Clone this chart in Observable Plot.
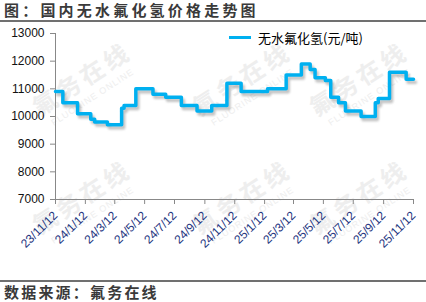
<!DOCTYPE html>
<html>
<head>
<meta charset="utf-8">
<script src="https://cdn.jsdelivr.net/npm/d3@7"></script>
<script src="https://cdn.jsdelivr.net/npm/@observablehq/plot@0.6"></script>
<style>
  html, body { margin: 0; padding: 0; background: #fff; }
  #wrap { position: relative; width: 426px; height: 302px; overflow: hidden; font-family: "Liberation Sans", Arial, sans-serif; }
  #title { position: absolute; left: 0; top: 0; width: 426px; height: 20px; border-bottom: 2px solid #707070;
           font-family: "Noto Sans CJK SC", sans-serif; font-weight: bold; font-size: 15px; line-height: 20px;
           letter-spacing: 3.2px; color: #3a3a3a; padding-left: 4px; box-sizing: content-box; }
  #footer { position: absolute; left: 0; top: 280px; width: 426px; height: 22px; border-top: 2px solid #707070;
           font-family: "Noto Sans CJK SC", sans-serif; font-weight: bold; font-size: 15px; line-height: 20px;
           letter-spacing: 2.2px; color: #3a3a3a; padding-left: 4px; }
  #chart { position: absolute; left: 0; top: 22px; }
  #legend { position: absolute; left: 229px; top: 28px; height: 18px; display: flex; align-items: center;
            font-family: "Noto Sans CJK SC", sans-serif; font-size: 13px; color: #000; }
  #legend .sw { width: 22px; height: 3px; background: #00b0f0; margin-right: 7px; }
  .wm { position: absolute; transform: rotate(-33deg); transform-origin: center; color: #eeeeee; text-align: center;
        font-family: "Noto Sans CJK SC", sans-serif; white-space: nowrap; }
  .wm b { display: block; font-size: 24px; letter-spacing: 4px; }
  .wm i { display: block; font-style: normal; font-size: 9px; letter-spacing: 1px; font-family: "Liberation Sans", sans-serif; }
</style>
</head>
<body>
<div id="wrap">
  <div id="wms"></div>
  <div id="title">图：国内无水氟化氢价格走势图</div>
  <div id="chart"></div>
  <div id="legend"><span class="sw"></span><span>无水氟化氢(元/吨)</span></div>
  <div id="footer">数据来源：氟务在线</div>
</div>
<script>
// ---- data ----
const dates = ["2023-11-12","2023-11-27","2023-12-27","2024-01-23","2024-01-31","2024-02-26","2024-03-26","2024-03-31",
  "2024-04-24","2024-05-29","2024-06-24","2024-07-26","2024-08-27","2024-09-26","2024-10-27","2024-11-25",
  "2025-01-18","2025-02-25","2025-03-28","2025-04-15","2025-04-25","2025-05-16","2025-05-27","2025-06-12",
  "2025-06-26","2025-07-28","2025-08-26","2025-09-01","2025-09-24","2025-10-28","2025-11-12"];
const prices = [10900,10500,10100,9900,9800,9700,10300,10400,
  11000,10800,10700,10400,10200,10400,11200,10900,
  11000,11500,11900,11700,11400,11300,10700,10500,
  10200,10000,10500,10650,11600,11350,11350];
const xTickDates = ["2023-11-12","2024-01-12","2024-03-12","2024-05-12","2024-07-12","2024-09-12","2024-11-12",
  "2025-01-12","2025-03-12","2025-05-12","2025-07-12","2025-09-12","2025-11-12"];
const yTicks = [7000,8000,9000,10000,11000,12000,13000];
const seriesName = "无水氟化氢(元/吨)";

const data = dates.map((d, i) => ({date: new Date(d + "T00:00:00Z"), price: prices[i]}));
const xTicks = xTickDates.map(d => new Date(d + "T00:00:00Z"));
const fmt = d => `${String(d.getUTCFullYear()).slice(2)}/${d.getUTCMonth() + 1}/${d.getUTCDate()}`;

const chart = Plot.plot({
  width: 426,
  height: 258,
  marginLeft: 55,
  marginRight: 13,
  marginTop: 11,
  marginBottom: 81,
  style: {fontFamily: "'Liberation Sans', Arial, sans-serif", fontSize: "12px", color: "#888", background: "transparent", overflow: "visible"},
  x: {type: "utc", domain: [xTicks[0], xTicks[xTicks.length - 1]], ticks: xTicks, tickFormat: fmt,
      tickRotate: -45, tickSize: 5, tickPadding: 9, label: null},
  y: {domain: [yTicks[0], yTicks[yTicks.length - 1]], ticks: yTicks, tickFormat: d => String(d),
      tickSize: 5, tickPadding: 6, label: null},
  marks: [
    Plot.ruleX([xTicks[0]], {stroke: "#888", strokeWidth: 1}),
    Plot.ruleY([yTicks[0]], {stroke: "#888", strokeWidth: 1}),
    Plot.line(data, {x: "date", y: "price", curve: "step-after", stroke: "#7a7a7a", strokeOpacity: 0.45,
      strokeWidth: 3.5, dx: 2, dy: 3}),
    Plot.line(data, {x: "date", y: "price", curve: "step-after", stroke: "#00b0f0", strokeWidth: 3.5})
  ]
});
document.getElementById("chart").appendChild(chart);

// styling after render
const svg = d3.select(chart);
svg.selectAll('g[aria-label="y-axis tick label"] text').attr("fill", "#111");
svg.selectAll('g[aria-label="x-axis tick label"] text').attr("fill", "#1e3580");
const lineGroups = chart.querySelectorAll('g[aria-label="line"]');
if (lineGroups.length > 1) lineGroups[0].style.filter = "blur(1.3px)";

// faint watermarks
const wmCenters = [[83, 82], [243, 82], [360, 82], [83, 200], [243, 200], [360, 200]];
const wms = document.getElementById("wms");
wmCenters.forEach(([cx, cy]) => {
  const el = document.createElement("div");
  el.className = "wm";
  el.innerHTML = "<b>氟务在线</b><i>FLUORINE ONLINE</i>";
  el.style.left = (cx - 55) + "px";
  el.style.top = (cy - 22) + "px";
  el.style.width = "110px";
  wms.appendChild(el);
});
</script>
</body>
</html>
